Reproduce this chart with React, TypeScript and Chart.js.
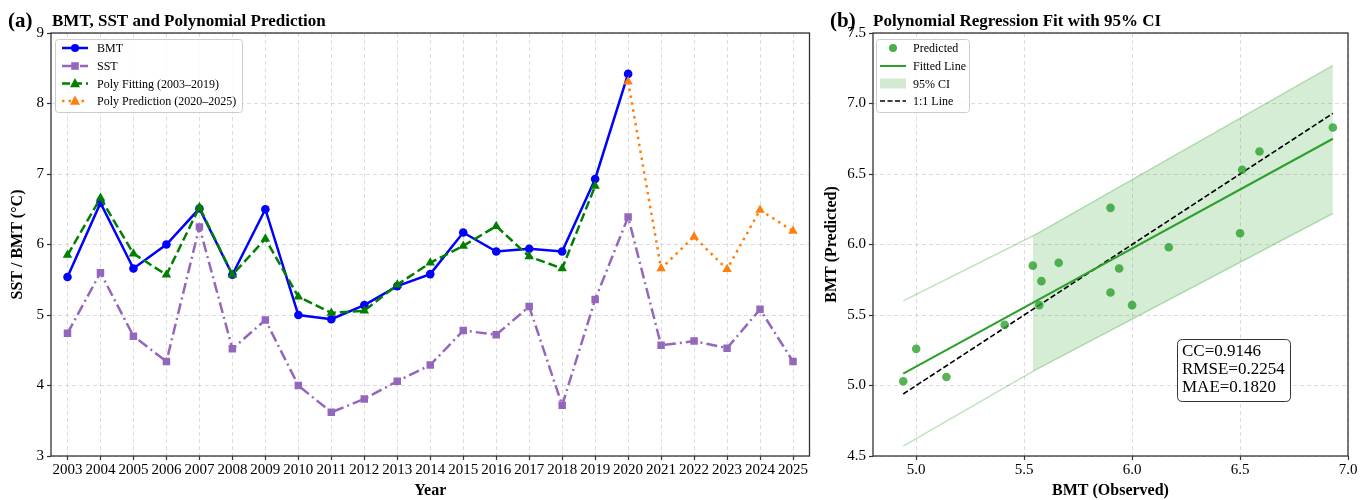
import React, { useEffect, useRef } from 'react';
import { Chart, registerables } from 'chart.js';
Chart.register(...registerables);

const FONT = "'Liberation Serif', 'Times New Roman', serif";

// ---------- data ----------
const years = ['2003','2004','2005','2006','2007','2008','2009','2010','2011','2012','2013','2014','2015','2016','2017','2018','2019','2020','2021','2022','2023','2024','2025'];
const bmt = [5.54, 6.59, 5.66, 6.00, 6.51, 5.57, 6.50, 5.00, 4.94, 5.14, 5.41, 5.58, 6.17, 5.90, 5.94, 5.90, 6.93, 8.42, null, null, null, null, null];
const sst = [4.74, 5.60, 4.70, 4.34, 6.25, 4.52, 4.93, 4.00, 3.62, 3.81, 4.06, 4.29, 4.78, 4.72, 5.12, 3.72, 5.22, 6.39, 4.57, 4.63, 4.53, 5.08, 4.34];
const polyFit = [5.85, 6.66, 5.87, 5.57, 6.53, 5.57, 6.08, 5.26, 5.03, 5.06, 5.43, 5.74, 5.98, 6.26, 5.83, 5.66, 6.83, null, null, null, null, null, null];
const polyPred = [null, null, null, null, null, null, null, null, null, null, null, null, null, null, null, null, null, 8.31, 5.66, 6.11, 5.65, 6.49, 6.19];

// scatter: observed BMT vs predicted (fitting period 2003–2019)
const observed = bmt.slice(0, 17) as number[];
const predicted = polyFit.slice(0, 17) as number[];
const fitLineX = [4.94, 6.93];
const fitLineY = [5.085, 6.75];
const oneToOneX = [4.94, 6.93];
const ciX = [4.94, 5.54, 6.93];
const ciUpper = [5.60, 6.06, 7.27];
const ciLower = [4.57, 5.10, 6.22];
const leftYTicks = [3, 4, 5, 6, 7, 8, 9];
const rightXTicks = [5.0, 5.5, 6.0, 6.5, 7.0];
const rightYTicks = [4.5, 5.0, 5.5, 6.0, 6.5, 7.0, 7.5];
const statsText = ['CC=0.9146', 'RMSE=0.2254', 'MAE=0.1820'];

function pts(xs: number[], ys: number[]) {
  return xs.map((x, i) => ({ x, y: ys[i] }));
}

function drawMarker(ctx: CanvasRenderingContext2D, type: string, x: number, y: number, r: number, color: string) {
  ctx.save();
  ctx.fillStyle = color;
  ctx.setLineDash([]);
  ctx.beginPath();
  if (type === 'circle') {
    ctx.arc(x, y, r, 0, Math.PI * 2);
  } else if (type === 'rect') {
    ctx.rect(x - r, y - r, 2 * r, 2 * r);
  } else if (type === 'triangle') {
    ctx.moveTo(x, y - r * 1.1);
    ctx.lineTo(x + r, y + r * 0.75);
    ctx.lineTo(x - r, y + r * 0.75);
    ctx.closePath();
  }
  ctx.fill();
  ctx.restore();
}

function roundRect(ctx: CanvasRenderingContext2D, x: number, y: number, w: number, h: number, r: number) {
  ctx.beginPath();
  ctx.moveTo(x + r, y);
  ctx.lineTo(x + w - r, y);
  ctx.quadraticCurveTo(x + w, y, x + w, y + r);
  ctx.lineTo(x + w, y + h - r);
  ctx.quadraticCurveTo(x + w, y + h, x + w - r, y + h);
  ctx.lineTo(x + r, y + h);
  ctx.quadraticCurveTo(x, y + h, x, y + h - r);
  ctx.lineTo(x, y + r);
  ctx.quadraticCurveTo(x, y, x + r, y);
  ctx.closePath();
}

function framePlugin(id: string, tag: string, title: string, tagX: number, titleX: number) {
  return {
    id,
    afterDraw(chart: any) {
      const { ctx, chartArea } = chart;
      ctx.save();
      ctx.strokeStyle = '#333';
      ctx.lineWidth = 1.3;
      ctx.setLineDash([]);
      ctx.strokeRect(chartArea.left, chartArea.top, chartArea.right - chartArea.left, chartArea.bottom - chartArea.top);
      ctx.fillStyle = '#000';
      ctx.textBaseline = 'alphabetic';
      ctx.textAlign = 'left';
      ctx.font = `bold 21px ${FONT}`;
      ctx.fillText(tag, tagX, 27);
      ctx.font = `bold 17px ${FONT}`;
      ctx.fillText(title, titleX, 26);
      ctx.restore();
    },
  };
}

const leftLegendItems = [
  { label: 'BMT', color: '#0000ff', dash: [] as number[], marker: 'circle', r: 4 },
  { label: 'SST', color: '#9467bd', dash: [10, 3, 2, 3], marker: 'rect', r: 3.8 },
  { label: 'Poly Fitting (2003–2019)', color: '#008000', dash: [8, 4], marker: 'triangle', r: 5 },
  { label: 'Poly Prediction (2020–2025)', color: '#ff7f0e', dash: [2.5, 4], marker: 'triangle', r: 5 },
];

const leftLegendPlugin = {
  id: 'leftLegend',
  afterDraw(chart: any) {
    const ctx = chart.ctx as CanvasRenderingContext2D;
    ctx.save();
    roundRect(ctx, 55.5, 39.5, 187, 73, 3);
    ctx.fillStyle = 'rgba(255,255,255,0.85)';
    ctx.fill();
    ctx.strokeStyle = '#cccccc';
    ctx.lineWidth = 1;
    ctx.stroke();
    const rows = [48, 66, 83.5, 101];
    leftLegendItems.forEach((it, i) => {
      const y = rows[i];
      ctx.strokeStyle = it.color;
      ctx.lineWidth = 2.5;
      ctx.setLineDash(it.dash);
      ctx.beginPath();
      ctx.moveTo(62, y);
      ctx.lineTo(88, y);
      ctx.stroke();
      drawMarker(ctx, it.marker, 75, y, it.r, it.color);
      ctx.fillStyle = '#000';
      ctx.font = `12px ${FONT}`;
      ctx.textBaseline = 'middle';
      ctx.textAlign = 'left';
      ctx.fillText(it.label, 97, y + 1);
    });
    ctx.restore();
  },
};

const rightLegendPlugin = {
  id: 'rightLegend',
  afterDraw(chart: any) {
    const ctx = chart.ctx as CanvasRenderingContext2D;
    ctx.save();
    roundRect(ctx, 61.5, 39.5, 93, 73, 3);
    ctx.fillStyle = 'rgba(255,255,255,0.85)';
    ctx.fill();
    ctx.strokeStyle = '#cccccc';
    ctx.lineWidth = 1;
    ctx.stroke();
    const rows = [48, 66, 83.5, 101];
    // Predicted
    drawMarker(ctx, 'circle', 78, rows[0], 4, 'rgba(44,160,44,0.85)');
    // Fitted line
    ctx.strokeStyle = '#2ca02c';
    ctx.lineWidth = 2;
    ctx.setLineDash([]);
    ctx.beginPath();
    ctx.moveTo(65, rows[1]);
    ctx.lineTo(91, rows[1]);
    ctx.stroke();
    // CI
    ctx.fillStyle = 'rgba(44,160,44,0.22)';
    ctx.fillRect(65, rows[2] - 5, 26, 10);
    // 1:1
    ctx.strokeStyle = '#000';
    ctx.lineWidth = 1.5;
    ctx.setLineDash([5, 2.5]);
    ctx.beginPath();
    ctx.moveTo(65, rows[3]);
    ctx.lineTo(91, rows[3]);
    ctx.stroke();
    ctx.setLineDash([]);
    const labels = ['Predicted', 'Fitted Line', '95% CI', '1:1 Line'];
    ctx.fillStyle = '#000';
    ctx.font = `12px ${FONT}`;
    ctx.textBaseline = 'middle';
    ctx.textAlign = 'left';
    labels.forEach((l, i) => ctx.fillText(l, 98, rows[i] + 1));
    // stats box
    roundRect(ctx, 362.5, 339.5, 113, 62, 5);
    ctx.fillStyle = '#fff';
    ctx.fill();
    ctx.strokeStyle = '#333';
    ctx.lineWidth = 1;
    ctx.stroke();
    ctx.fillStyle = '#000';
    ctx.font = `17px ${FONT}`;
    statsText.forEach((t, i) => ctx.fillText(t, 367, 352 + i * 18));
    ctx.restore();
  },
};

const gridCommon = {
  color: 'rgba(175,175,175,0.55)',
  lineWidth: 0.8,
  drawTicks: true,
  tickLength: 4,
  tickColor: '#333',
  tickWidth: 1.2,
};
const borderCommon = { display: false, dash: [4, 3] };
const tickFont = { family: FONT, size: 15 };
const titleFont = { family: FONT, size: 16, weight: 'bold' as const };

export default function App() {
  const leftRef = useRef<HTMLCanvasElement>(null);
  const rightRef = useRef<HTMLCanvasElement>(null);

  useEffect(() => {
    const left = new Chart(leftRef.current!, {
      type: 'line',
      data: {
        labels: years,
        datasets: [
          {
            label: 'BMT', data: bmt, borderColor: '#0000ff', backgroundColor: '#0000ff',
            borderWidth: 2.5, pointStyle: 'circle', pointRadius: 4.3, pointBorderWidth: 0, order: 4,
          },
          {
            label: 'SST', data: sst, borderColor: '#9467bd', backgroundColor: '#9467bd',
            borderWidth: 2.5, borderDash: [11, 4, 2, 4], pointStyle: 'rect', pointRadius: 5.3, pointBorderWidth: 0, order: 3,
          },
          {
            label: 'Poly Fitting (2003–2019)', data: polyFit, borderColor: '#008000', backgroundColor: '#008000',
            borderWidth: 2.5, borderDash: [9, 4], pointStyle: 'triangle', pointRadius: 5.5, pointBorderWidth: 0, order: 2,
          },
          {
            label: 'Poly Prediction (2020–2025)', data: polyPred, borderColor: '#ff7f0e', backgroundColor: '#ff7f0e',
            borderWidth: 2.5, borderDash: [2.5, 4.5], pointStyle: 'triangle', pointRadius: 5.5, pointBorderWidth: 0, order: 1,
          },
        ],
      },
      options: {
        animation: false,
        responsive: false,
        layout: { padding: { top: 33, right: 4, left: 0, bottom: 0 } },
        plugins: { legend: { display: false }, tooltip: { enabled: false } },
        scales: {
          x: {
            type: 'category',
            offset: true,
            grid: { ...gridCommon, offset: false },
            border: borderCommon,
            ticks: { font: tickFont, color: '#000', autoSkip: false, maxRotation: 0, minRotation: 0, padding: 1 },
            title: { display: true, text: 'Year', font: titleFont, color: '#000', padding: { top: 0, bottom: 0 } },
            afterFit: (s: any) => { s.height = 44; },
          },
          y: {
            min: 3, max: 9,
            grid: gridCommon,
            border: borderCommon,
            afterBuildTicks: (s: any) => { s.ticks = leftYTicks.map((v) => ({ value: v })); },
            ticks: { font: tickFont, color: '#000', padding: 3 },
            title: { display: true, text: 'SST / BMT (°C)', font: titleFont, color: '#000', padding: { top: 8.4, bottom: 0 } },
            afterFit: (s: any) => { s.width = 51; },
          },
        },
      },
      plugins: [framePlugin('frameA', '(a)', 'BMT, SST and Polynomial Prediction', 8, 52), leftLegendPlugin],
    } as any);

    const right = new Chart(rightRef.current!, {
      type: 'line',
      data: {
        datasets: [
          {
            label: 'Predicted', data: pts(observed, predicted), showLine: false,
            pointRadius: 4.3, pointBorderWidth: 0, backgroundColor: 'rgba(44,160,44,0.8)', borderColor: 'rgba(44,160,44,0.8)', order: 0,
          },
          {
            label: 'Fitted Line', data: pts(fitLineX, fitLineY), borderColor: '#2ca02c', borderWidth: 2,
            pointRadius: 0, fill: false, order: 1,
          },
          {
            label: '1:1 Line', data: pts(oneToOneX, oneToOneX), borderColor: '#000', borderWidth: 1.6, borderDash: [5.5, 2.5],
            pointRadius: 0, fill: false, order: 2,
          },
          {
            label: 'ci upper edge', data: pts(ciX, ciUpper), borderColor: 'rgba(44,160,44,0.3)', borderWidth: 1.5,
            pointRadius: 0, fill: false, order: 3,
          },
          {
            label: 'ci lower edge', data: pts(ciX, ciLower), borderColor: 'rgba(44,160,44,0.3)', borderWidth: 1.5,
            pointRadius: 0, fill: false, order: 3,
          },
          {
            label: '95% CI', data: pts(ciX.slice(1), ciUpper.slice(1)), borderWidth: 0, borderColor: 'rgba(0,0,0,0)',
            backgroundColor: 'rgba(44,160,44,0.2)', pointRadius: 0, fill: '+1', order: 4,
          },
          {
            label: 'ci lower fill', data: pts(ciX.slice(1), ciLower.slice(1)), borderWidth: 0, borderColor: 'rgba(0,0,0,0)',
            pointRadius: 0, fill: false, order: 4,
          },
        ],
      },
      options: {
        animation: false,
        responsive: false,
        layout: { padding: { top: 33, right: 22, left: 0, bottom: 0 } },
        plugins: { legend: { display: false }, tooltip: { enabled: false } },
        scales: {
          x: {
            type: 'linear', min: 4.8, max: 7.0,
            grid: gridCommon,
            border: borderCommon,
            afterBuildTicks: (s: any) => { s.ticks = rightXTicks.map((v) => ({ value: v })); },
            ticks: { font: tickFont, color: '#000', padding: 1, callback: (v: any) => Number(v).toFixed(1) },
            title: { display: true, text: 'BMT (Observed)', font: titleFont, color: '#000', padding: { top: 0, bottom: 0 } },
            afterFit: (s: any) => { s.height = 44; },
          },
          y: {
            type: 'linear', min: 4.5, max: 7.5,
            grid: gridCommon,
            border: borderCommon,
            afterBuildTicks: (s: any) => { s.ticks = rightYTicks.map((v) => ({ value: v })); },
            ticks: { font: tickFont, color: '#000', padding: 3, callback: (v: any) => Number(v).toFixed(1) },
            title: { display: true, text: 'BMT (Predicted)', font: titleFont, color: '#000', padding: { top: 7.4, bottom: 0 } },
            afterFit: (s: any) => { s.width = 58; },
          },
        },
      },
      plugins: [framePlugin('frameB', '(b)', 'Polynomial Regression Fit with 95% CI', 15, 58), rightLegendPlugin],
    } as any);

    return () => {
      left.destroy();
      right.destroy();
    };
  }, []);

  return (
    <div style={{ position: 'fixed', left: 0, top: 0, width: 1370, height: 500, background: '#fff' }}>
      <canvas ref={leftRef} width={815} height={500} style={{ position: 'absolute', left: 0, top: 0 }} />
      <canvas ref={rightRef} width={555} height={500} style={{ position: 'absolute', left: 815, top: 0 }} />
    </div>
  );
}
